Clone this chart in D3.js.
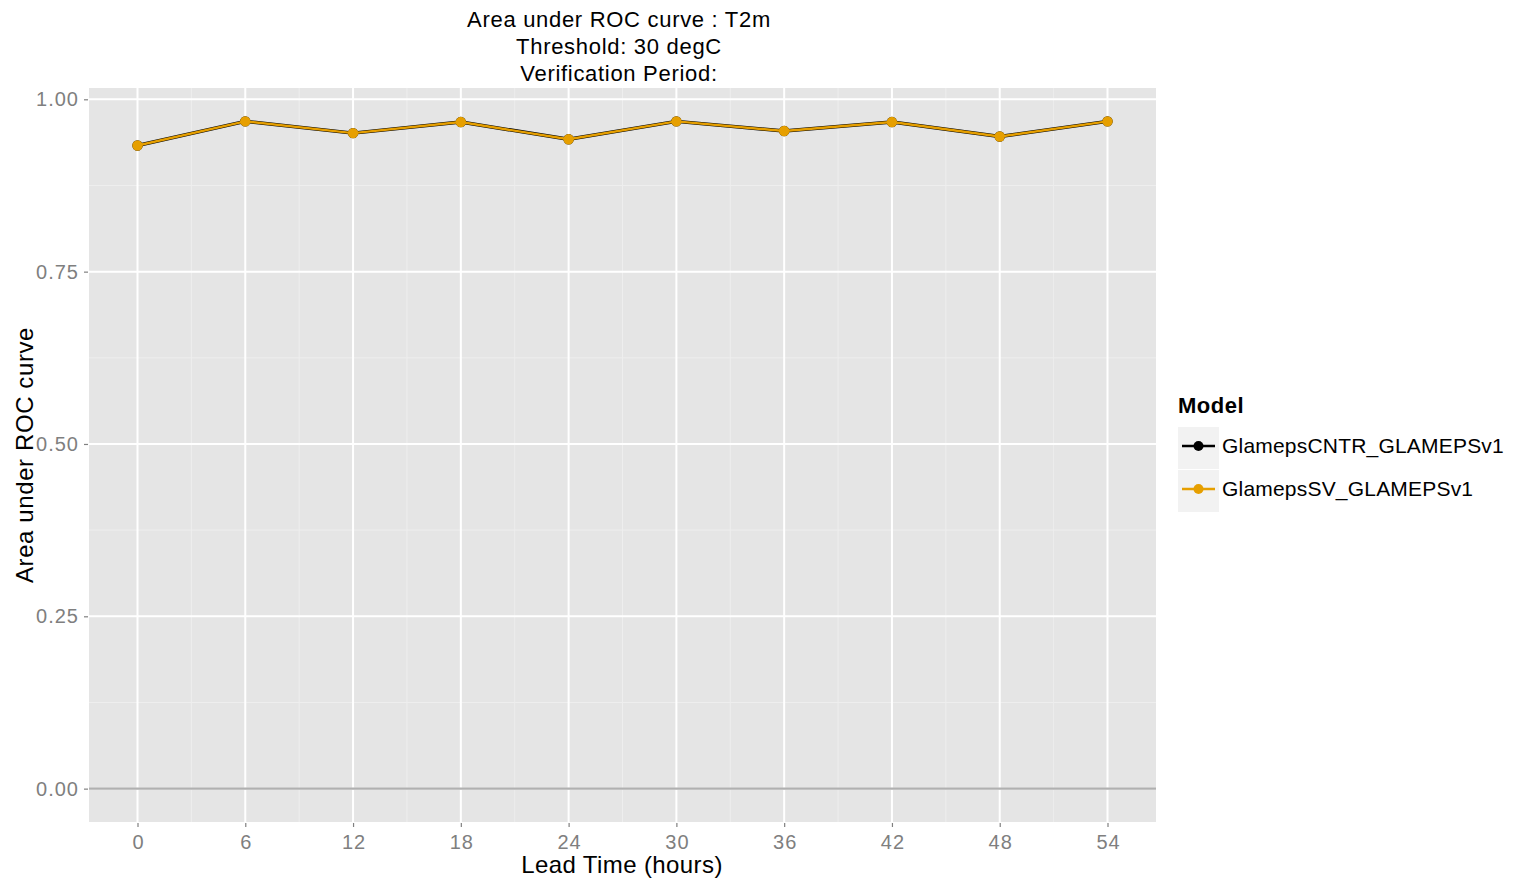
<!DOCTYPE html>
<html>
<head>
<meta charset="utf-8">
<script src="https://cdn.jsdelivr.net/npm/d3@7/dist/d3.min.js"></script>
<style>
  html, body { margin: 0; padding: 0; background: #ffffff; }
  svg { display: block; font-family: "Liberation Sans", Arial, Helvetica, sans-serif; }
</style>
</head>
<body>
<svg id="chart" width="1513" height="879"></svg>
<script>
// Lead times (hours) on the x axis
const leadTimes = [0, 6, 12, 18, 24, 30, 36, 42, 48, 54];
// Area under ROC curve per model
const cntrValues = [0.933, 0.968, 0.951, 0.967, 0.942, 0.968, 0.954, 0.967, 0.946, 0.968];
const svValues   = [0.933, 0.968, 0.951, 0.967, 0.942, 0.968, 0.954, 0.967, 0.946, 0.968];
const modelNames = ["GlamepsCNTR_GLAMEPSv1", "GlamepsSV_GLAMEPSv1"];
const modelColors = ["#000000", "#E69F00"];
const yTicks = [0.00, 0.25, 0.50, 0.75, 1.00];
const xTicks = [0, 6, 12, 18, 24, 30, 36, 42, 48, 54];
const titleLines = ["Area under ROC curve : T2m", "Threshold: 30 degC", "Verification Period:"];

const svg = d3.select("#chart");
const panel = { left: 89, right: 1156, top: 88, bottom: 822 };

// ggplot-style 5% expansion around the data range (0 .. max)
const yMax = d3.max(cntrValues.concat(svValues));
const yPad = 0.05 * yMax;
const xPad = 0.05 * (d3.max(leadTimes) - d3.min(leadTimes));

const x = d3.scaleLinear()
  .domain([d3.min(leadTimes) - xPad, d3.max(leadTimes) + xPad])
  .range([panel.left, panel.right]);
const y = d3.scaleLinear()
  .domain([0 - yPad, yMax + yPad])
  .range([panel.bottom, panel.top]);

// Panel background
svg.append("rect")
  .attr("x", panel.left).attr("y", panel.top)
  .attr("width", panel.right - panel.left).attr("height", panel.bottom - panel.top)
  .attr("fill", "#e5e5e5");

const grid = svg.append("g");
// Minor grid lines midway between major ticks
const yMinor = d3.range(yTicks.length - 1).map(i => (yTicks[i] + yTicks[i + 1]) / 2);
const xMinor = d3.range(xTicks.length - 1).map(i => (xTicks[i] + xTicks[i + 1]) / 2);
grid.selectAll(".ymin").data(yMinor).join("line")
  .attr("x1", panel.left).attr("x2", panel.right)
  .attr("y1", d => y(d)).attr("y2", d => y(d))
  .attr("stroke", "#eeeeee").attr("stroke-width", 1);
grid.selectAll(".xmin").data(xMinor).join("line")
  .attr("y1", panel.top).attr("y2", panel.bottom)
  .attr("x1", d => x(d)).attr("x2", d => x(d))
  .attr("stroke", "#eeeeee").attr("stroke-width", 1);
// Major grid lines
grid.selectAll(".ymaj").data(yTicks).join("line")
  .attr("x1", panel.left).attr("x2", panel.right)
  .attr("y1", d => y(d)).attr("y2", d => y(d))
  .attr("stroke", "#ffffff").attr("stroke-width", 2);
grid.selectAll(".xmaj").data(xTicks).join("line")
  .attr("y1", panel.top).attr("y2", panel.bottom)
  .attr("x1", d => x(d)).attr("x2", d => x(d))
  .attr("stroke", "#ffffff").attr("stroke-width", 2);

// Reference line at zero
svg.append("line")
  .attr("x1", panel.left).attr("x2", panel.right)
  .attr("y1", y(0)).attr("y2", y(0))
  .attr("stroke", "#b0b0b0").attr("stroke-width", 2.2);

// Axes
const xAxis = d3.axisBottom(x).tickValues(xTicks).tickSize(4).tickPadding(5).tickFormat(d3.format("d"));
const yAxis = d3.axisLeft(y).tickValues(yTicks).tickSize(4).tickPadding(5).tickFormat(d3.format(".2f"));

const gx = svg.append("g").attr("transform", `translate(0,${panel.bottom + 1})`).call(xAxis);
const gy = svg.append("g").attr("transform", `translate(${panel.left - 1},0)`).call(yAxis);
[gx, gy].forEach(g => {
  g.select(".domain").remove();
  g.selectAll(".tick line").attr("stroke", "#808080").attr("stroke-width", 1.2);
  g.selectAll(".tick text").attr("fill", "#7f7f7f")
    .style("font-size", "20px").style("letter-spacing", "1px");
});
gx.selectAll(".tick text").attr("dy", "0.85em").attr("dx", "0.5px");

// Series lines and points (black drawn first, orange above it)
const series = [cntrValues, svValues];
const line = d3.line().x((d, i) => x(leadTimes[i])).y(d => y(d));
series.forEach((vals, s) => {
  svg.append("path")
    .datum(vals)
    .attr("d", line)
    .attr("fill", "none")
    .attr("stroke", modelColors[s])
    .attr("stroke-width", s === 0 ? 3.4 : 2.4)
    .attr("stroke-linejoin", "round");
  svg.append("g").selectAll("circle").data(vals).join("circle")
    .attr("cx", (d, i) => x(leadTimes[i]))
    .attr("cy", d => y(d))
    .attr("r", 5.2)
    .attr("fill", modelColors[s]);
});

// Title
const title = svg.append("text")
  .attr("text-anchor", "middle")
  .attr("fill", "#000")
  .style("font-size", "22px")
  .style("letter-spacing", "0.7px");
titleLines.forEach((t, i) => {
  title.append("tspan").attr("x", 619).attr("y", 27 + i * 27).text(t);
});

// Axis titles
svg.append("text")
  .attr("x", 622).attr("y", 873)
  .attr("text-anchor", "middle").style("font-size", "24px").style("letter-spacing", "0.4px")
  .attr("fill", "#000")
  .text("Lead Time (hours)");
svg.append("text")
  .attr("transform", `translate(33,${(panel.top + panel.bottom) / 2}) rotate(-90)`)
  .attr("text-anchor", "middle").style("font-size", "24px").style("letter-spacing", "0.6px")
  .attr("fill", "#000")
  .text("Area under ROC curve");

// Legend
const legend = svg.append("g").attr("transform", "translate(1178,0)");
legend.append("text")
  .attr("x", 0).attr("y", 413)
  .style("font-size", "22px").style("font-weight", "bold").style("letter-spacing", "0.5px")
  .attr("fill", "#000")
  .text("Model");
modelNames.forEach((name, i) => {
  const top = 427 + i * 43;
  legend.append("rect")
    .attr("x", 0).attr("y", top).attr("width", 41).attr("height", 42)
    .attr("fill", "#f2f2f2");
  legend.append("line")
    .attr("x1", 4).attr("x2", 37).attr("y1", top + 19).attr("y2", top + 19)
    .attr("stroke", modelColors[i]).attr("stroke-width", 2.4);
  legend.append("circle")
    .attr("cx", 20.5).attr("cy", top + 19).attr("r", 5)
    .attr("fill", modelColors[i]);
  legend.append("text")
    .attr("x", 44).attr("y", top + 26)
    .style("font-size", "21px").style("letter-spacing", "0.2px").attr("fill", "#000")
    .text(name);
});
</script>
</body>
</html>
